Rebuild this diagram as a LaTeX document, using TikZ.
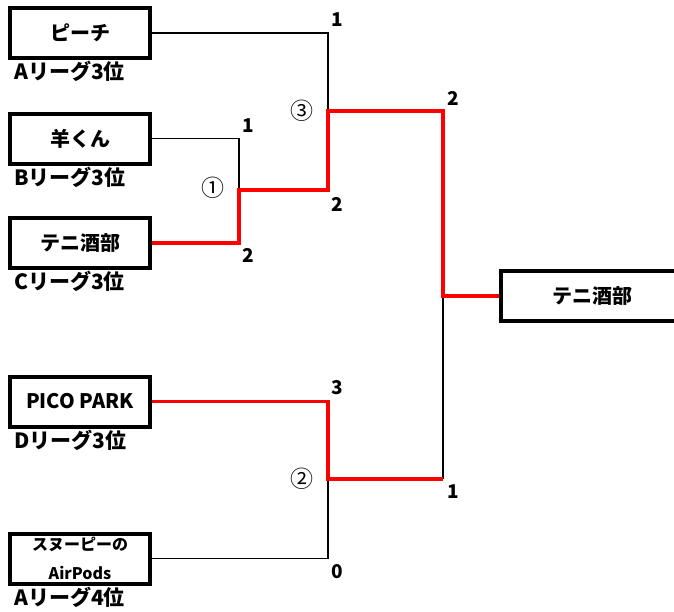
\documentclass[tikz,border=0pt]{standalone}
\usepackage{fontspec}
\setmainfont{Noto Sans CJK JP}
\usetikzlibrary{positioning}

\begin{document}
\begin{tikzpicture}[x=1pt, y=-1pt, on grid,
    team/.style={draw, line width=4pt, minimum width=140pt, minimum height=50pt, inner sep=0pt, font=\bfseries\fontsize{20}{22}\selectfont},
    league/.style={anchor=north west, inner sep=1pt, font=\bfseries\fontsize{21}{22}\selectfont},
    score/.style={inner sep=0pt, font=\bfseries\fontsize{19}{20}\selectfont},
    matchno/.style={inner sep=0pt, font=\fontsize{23}{24}\selectfont},
    lose/.style={line width=1.5pt},
    win/.style={line width=3.5pt, red}]
  \useasboundingbox (0,0) rectangle (674,611);
  \clip (0,0) rectangle (674,611);
  % teams
  \node[team] (peach) at (80,33) {ピーチ};
  \node[team, below=105.5pt of peach] (hitsuji) {羊くん};
  \node[team, below=104.5pt of hitsuji] (teni) {テニ酒部};
  \node[team, below=158.5pt of teni] (pico) {PICO PARK};
  \node[team, below=157pt of pico, align=center, font=\bfseries\fontsize{16}{29}\selectfont] (snoopy) {スヌーピーの\\AirPods};
  \node[team, minimum width=182pt] (champ) at (592,296) {テニ酒部};
  \node[league] at ([xshift=5pt]peach.south west) {Aリーグ3位};
  \node[league] at ([xshift=5pt]hitsuji.south west) {Bリーグ3位};
  \node[league] at ([xshift=5pt]teni.south west) {Cリーグ3位};
  \node[league] at ([xshift=5pt]pico.south west) {Dリーグ3位};
  \node[league] at ([xshift=5pt]snoopy.south west) {Aリーグ4位};
  % matches
  \coordinate (m1) at (239,190);
  \coordinate (m3) at (328,111);
  \coordinate (m2) at (328,479);
  \coordinate (fin) at (443,296);
  \draw[lose] (peach.east) -| (m3);
  \draw[lose] (hitsuji.east) -| (m1);
  \draw[lose] (snoopy.east) -| (m2);
  \draw[lose] (fin) -- (fin |- m2);
  \draw[win] (teni.east) -| (m1) -| (m3) -| (fin) -- (champ.west);
  \draw[win] (pico.east) -| (m2) -- (fin |- m2);
  \node[matchno, xshift=-26pt, yshift=2pt] at (m1) {①};
  \node[matchno, xshift=-26pt] at (m2) {②};
  \node[matchno, xshift=-26pt] at (m3) {③};
  % scores
  \node[score, xshift=9pt, yshift=13pt] at (peach.east -| m3) {1};
  \node[score, xshift=9pt, yshift=13pt] at (hitsuji.east -| m1) {1};
  \node[score, xshift=9pt, yshift=-12pt] at (teni.east -| m1) {2};
  \node[score, xshift=9pt, yshift=-14pt] at (m1 -| m3) {2};
  \node[score, xshift=10pt, yshift=13pt] at (m3 -| fin) {2};
  \node[score, xshift=10pt, yshift=-13pt] at (m2 -| fin) {1};
  \node[score, xshift=9pt, yshift=14pt] at (pico.east -| m2) {3};
  \node[score, xshift=9pt, yshift=-13pt] at (snoopy.east -| m2) {0};
\end{tikzpicture}
\end{document}
